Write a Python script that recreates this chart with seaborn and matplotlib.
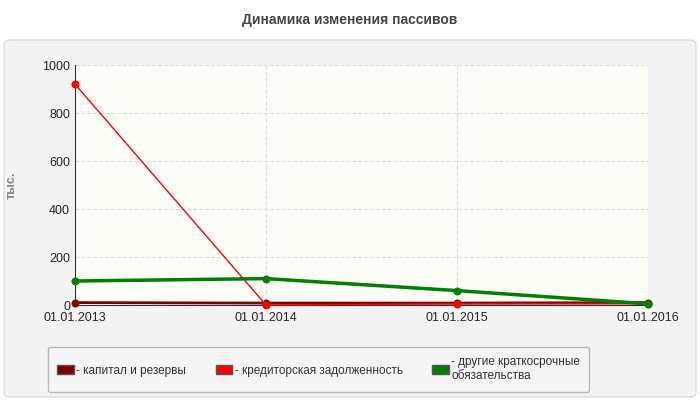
import matplotlib
matplotlib.use("Agg")
import matplotlib.pyplot as plt
from matplotlib.patches import FancyBboxPatch
import seaborn as sns
import pandas as pd

# --- Data ---
dates = ["01.01.2013", "01.01.2014", "01.01.2015", "01.01.2016"]
capital = [10, 8, 8, 10]
creditors = [920, 0, 5, 5]
other_short = [100, 110, 60, 5]

series_names = ["- капитал и резервы", "- кредиторская задолженность",
                "- другие краткосрочные\nобязательства"]
colors = ["#800000", "#ff0000", "#008000"]
widths = [2.0, 1.0, 2.5]

sns.set_style("white")
plt.rcParams['font.family'] = ['Liberation Sans', 'DejaVu Sans']

df = pd.DataFrame({"x": list(range(len(dates))) * 3,
                   "value": capital + creditors + other_short,
                   "series": sum([[n] * len(dates) for n in series_names], [])})

fig = plt.figure(figsize=(7, 4), dpi=100)
fig.patch.set_facecolor("white")

# grey rounded panel behind everything
bg = fig.add_axes([0, 0, 1, 1], zorder=-1)
bg.set_axis_off()
bg.add_patch(FancyBboxPatch((4 / 700, 3 / 400), 692 / 700, 357 / 400,
                            boxstyle="round,pad=0,rounding_size=0.01",
                            transform=bg.transAxes, facecolor="#f3f3f3",
                            edgecolor="#dddddd", linewidth=1))
fig.text(0.5, 0.95, "Динамика изменения пассивов", ha="center", va="center",
         fontsize=10, fontweight="bold", color="#444444")

ax = fig.add_axes([75 / 700, 95 / 400, 573 / 700, 240 / 400])
ax.set_facecolor("#fdfdf8")
for name, c, w in zip(series_names, colors, widths):
    sub = df[df["series"] == name]
    sns.lineplot(data=sub, x="x", y="value", ax=ax, color=c, linewidth=w,
                 marker="o", markersize=5, markeredgecolor=c,
                 zorder=3, legend=False, clip_on=False)

ax.set_xlim(0, 3)
ax.set_ylim(0, 1000)
ax.set_xticks(range(len(dates)))
ax.set_xticklabels(dates, fontsize=9)
ax.set_yticks(range(0, 1001, 200))
ax.tick_params(axis="y", labelsize=9, length=0)
ax.tick_params(axis="x", length=0, pad=5)
ax.grid(True, color="#dddddd", linestyle="--", linewidth=0.8)
ax.set_xlabel("")
ax.set_ylabel("тыс.", fontsize=9, fontweight="bold", color="#888888", labelpad=18)
for s in ["top", "right"]:
    ax.spines[s].set_visible(False)
for s in ["left", "bottom"]:
    ax.spines[s].set_color("#333333")

handles = [plt.Rectangle((0, 0), 1, 1, facecolor=c, edgecolor="#555555") for c in colors]
leg = fig.legend(handles, series_names, loc="upper left", ncol=3,
                 bbox_to_anchor=(42 / 700, 59 / 400), fontsize=8.5, frameon=True,
                 handlelength=1.4, handleheight=0.7, handletextpad=0.2,
                 columnspacing=2.5, borderpad=0.8, fancybox=True)
leg.get_frame().set_edgecolor("#aaaaaa")
leg.get_frame().set_facecolor("#f6f6f6")
for t in leg.get_texts():
    t.set_color("#333333")

fig.savefig("out.png", dpi=100)
